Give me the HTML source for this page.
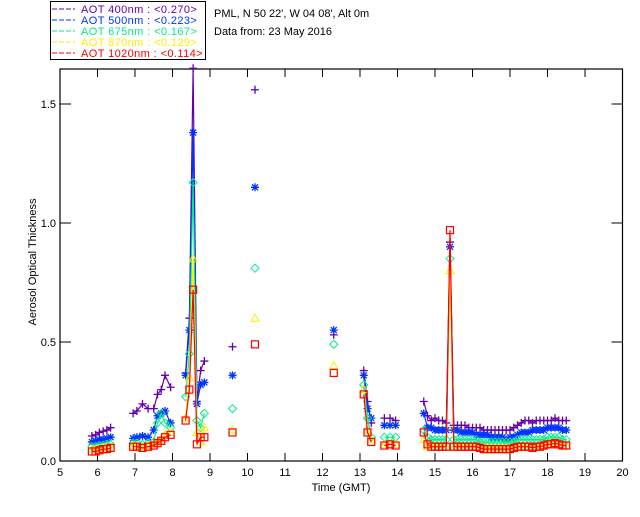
<!DOCTYPE html>
<html><head><meta charset="utf-8"><style>
body{margin:0;background:#fff;}
svg text{font-family:"Liberation Sans",sans-serif;font-size:11px;}
</style></head><body>
<svg id="c" width="640" height="512" xmlns="http://www.w3.org/2000/svg">
<rect width="640" height="512" fill="#fff"/>
<g id="legend">
<rect x="50.5" y="1.5" width="155" height="58" fill="#fff" stroke="#000"/>
</g>
<text x="214" y="17">PML, N 50 22', W 04 08', Alt 0m</text>
<text x="214" y="35">Data from: 23 May 2016</text>
<g id="axes"></g>
<g id="marks"></g>
<text x="341" y="491" text-anchor="middle">Time (GMT)</text>
<text transform="translate(36,262) rotate(-90)" text-anchor="middle">Aerosol Optical Thickness</text>
</svg>
<script>
const seriesNames=["AOT  400nm : <0.270>","AOT  500nm : <0.223>","AOT  675nm : <0.167>","AOT  870nm : <0.129>","AOT 1020nm : <0.114>"];
const seriesColors=["#6600aa","#0033ff","#00ee88","#ffee00","#ff0000"];
const xTicks=[5,6,7,8,9,10,11,12,13,14,15,16,17,18,19,20];
const yTicks=[0,0.5,1.0,1.5];
const yTickLabels=["0.0","0.5","1.0","1.5"];
// times; null = gap
const times=[5.85,5.95,6.05,6.15,6.25,6.35,null,
6.95,7.05,7.2,7.35,7.5,7.6,7.7,7.8,7.95,null,
8.35,8.45,8.55,8.65,8.75,8.85,null,9.6,null,10.2,null,12.3,null,
13.1,13.2,13.3,null,13.65,13.8,13.95,null,
14.7,14.8,14.9,15.0,15.1,15.2,15.3,15.4,15.5,15.6,15.7,15.8,15.9,16.0,16.1,16.2,16.3,16.4,16.5,16.6,16.7,16.8,16.9,17.0,17.1,17.2,17.3,17.4,17.5,17.6,17.7,17.8,17.9,18.0,18.1,18.2,18.3,18.4,18.5];
const aot400=[.105,.11,.12,.125,.13,.14,null,
.20,.21,.24,.22,.22,.28,.30,.36,.31,null,
.37,.60,1.65,.25,.38,.42,null,.48,null,1.56,null,.53,null,
.38,.25,.16,null,.18,.18,.17,null,
.25,.19,.17,.18,.17,.17,.16,.92,.15,.15,.15,.15,.14,.14,.14,.14,.13,.13,.13,.13,.13,.13,.13,.13,.14,.15,.16,.17,.17,.16,.17,.17,.17,.17,.17,.18,.17,.17,.17];
const aot500=[.08,.085,.09,.09,.095,.10,null,
.095,.10,.105,.10,.13,.19,.20,.21,.16,null,
.36,.55,1.38,.24,.32,.33,null,.36,null,1.15,null,.55,null,
.36,.22,.18,null,.15,.15,.15,null,
.20,.14,.14,.13,.13,.13,.13,.90,.13,.13,.12,.12,.12,.12,.11,.11,.11,.11,.10,.10,.10,.10,.09,.10,.10,.11,.12,.12,.12,.13,.13,.13,.13,.14,.14,.14,.14,.13,.13];
const aot675=[.06,.06,.065,.065,.07,.07,null,
.075,.075,.07,.075,.08,.16,.20,.16,.14,null,
.27,.45,1.17,.17,.14,.20,null,.22,null,.81,null,.49,null,
.32,.18,.10,null,.10,.10,.10,null,
.13,.10,.09,.09,.09,.09,.09,.85,.09,.09,.09,.09,.09,.09,.09,.08,.08,.08,.08,.08,.08,.08,.08,.08,.08,.09,.09,.09,.09,.09,.09,.09,.09,.10,.10,.10,.10,.09,.09];
const aot870=[.05,.05,.05,.055,.055,.06,null,
.065,.065,.06,.065,.07,.08,.09,.11,.12,null,
.18,.35,.85,.12,.08,.14,null,.13,null,.60,null,.40,null,
.30,.13,.09,null,.07,.07,.07,null,
.09,.06,.06,.06,.06,.06,.06,.80,.06,.06,.06,.06,.06,.06,.06,.06,.055,.055,.055,.055,.055,.055,.055,.055,.055,.06,.06,.06,.06,.06,.06,.065,.065,.07,.07,.075,.07,.065,.065];
const aot1020=[.04,.04,.045,.05,.05,.055,null,
.06,.06,.055,.06,.065,.075,.085,.10,.11,null,
.17,.30,.72,.07,.10,.10,null,.12,null,.49,null,.37,null,
.28,.12,.08,null,.065,.07,.065,null,
.12,.07,.06,.06,.06,.06,.06,.97,.06,.06,.06,.06,.06,.06,.06,.055,.05,.05,.05,.05,.05,.05,.05,.05,.055,.06,.06,.06,.06,.055,.06,.06,.065,.07,.07,.075,.07,.065,.065];
const allSeries=[aot400,aot500,aot675,aot870,aot1020];

const NS="http://www.w3.org/2000/svg";
const L=60,R=622.5,T=69,B=461;
function xs(t){return L+(t-5)*(R-L)/15;}
function ys(v){return B-v*238;}
function mk(tag,attrs,parent){const e=document.createElementNS(NS,tag);for(const k in attrs)e.setAttribute(k,attrs[k]);parent.appendChild(e);return e;}
const axes=document.getElementById('axes'),marks=document.getElementById('marks'),leg=document.getElementById('legend');

// legend
seriesNames.forEach((n,i)=>{
  const y=9+i*11;
  const ln=mk('line',{x1:52,x2:75,y1:y,y2:y,stroke:seriesColors[i],'stroke-dasharray':'5,2'},leg);
  
  
  const t=mk('text',{x:81,y:y+4,fill:seriesColors[i],'xml:space':'preserve','letter-spacing':'0.4'},leg);
  t.textContent=n;
  
  
});

// frame
const fr=mk('rect',{x:L,y:T,width:R-L,height:B-T,fill:'none',stroke:'#000','stroke-width':1.2},axes);


xTicks.forEach(t=>{
  const x=xs(t);
  mk('line',{x1:x,x2:x,y1:B,y2:B-8,stroke:'#000'},axes);
  mk('line',{x1:x,x2:x,y1:T,y2:T+8,stroke:'#000'},axes);
  const tx=mk('text',{x:x,y:B+15,'text-anchor':'middle'},axes);
  tx.textContent=t;
  
  
});
yTicks.forEach((v,i)=>{
  const y=ys(v);
  mk('line',{x1:L,x2:L+11,y1:y,y2:y,stroke:'#000'},axes);
  mk('line',{x1:R,x2:R-11,y1:y,y2:y,stroke:'#000'},axes);
  const tx=mk('text',{x:L-4,y:y+4,'text-anchor':'end'},axes);
  tx.textContent=yTickLabels[i];
  
  
});

function marker(kind,x,y,c,g){
  const s=4;
  if(kind===0){mk('path',{d:`M${x-s} ${y}H${x+s}M${x} ${y-s}V${y+s}`,stroke:c,'stroke-width':1.3,fill:'none'},g);}
  else if(kind===1){mk('path',{d:`M${x-s} ${y}H${x+s}M${x} ${y-s}V${y+s}M${x-3} ${y-3}L${x+3} ${y+3}M${x-3} ${y+3}L${x+3} ${y-3}`,stroke:c,'stroke-width':1.3,fill:'none'},g);}
  else if(kind===2){mk('path',{d:`M${x} ${y-s}L${x+s} ${y}L${x} ${y+s}L${x-s} ${y}Z`,stroke:c,fill:'none'},g);}
  else if(kind===3){mk('path',{d:`M${x} ${y-s}L${x+s} ${y+3}L${x-s} ${y+3}Z`,stroke:c,fill:'none'},g);}
  else {mk('rect',{x:x-3.5,y:y-3.5,width:7,height:7,stroke:c,fill:'none','stroke-width':1.2},g);}
}
allSeries.forEach((vals,si)=>{
  const g=mk('g',{},marks);
  
  
  let d='',pen=false;
  for(let i=0;i<times.length;i++){
    if(times[i]===null||vals[i]===null){pen=false;continue;}
    const x=xs(times[i]),y=ys(vals[i]);
    d+=(pen?'L':'M')+x.toFixed(1)+' '+y.toFixed(1);pen=true;
  }
  const p=mk('path',{d:d,stroke:seriesColors[si],fill:'none','stroke-width':1.2},g);
  
  
  for(let i=0;i<times.length;i++){
    if(times[i]===null||vals[i]===null)continue;
    marker(si,xs(times[i]),ys(vals[i]),seriesColors[si],g);
  }
});
</script>
</body></html>
